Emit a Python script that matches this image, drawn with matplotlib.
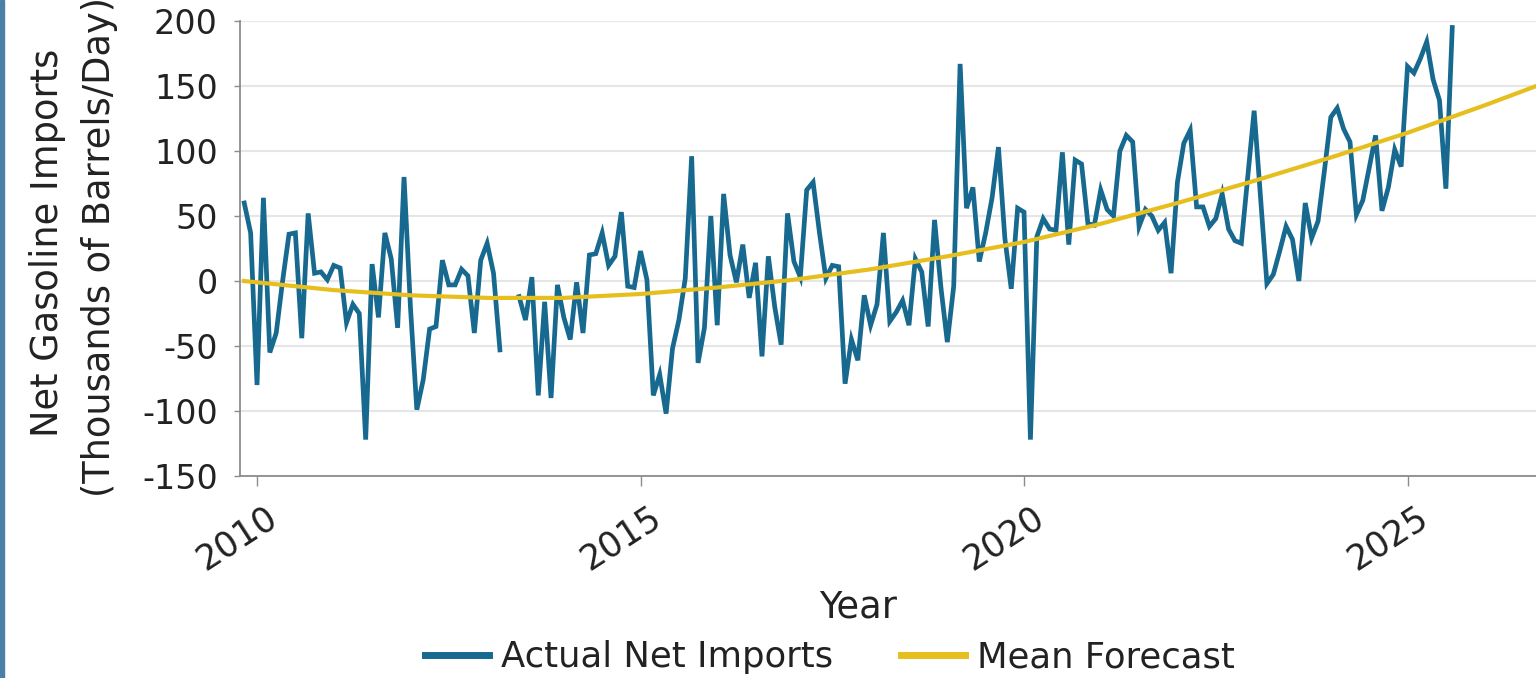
import numpy as np
import matplotlib.pyplot as plt
import matplotlib.transforms as mtransforms
from matplotlib.patches import Rectangle

plt.rcParams['font.family'] = ['DejaVu Sans']
plt.rcParams['axes.unicode_minus'] = False

# monthly net gasoline imports starting Nov 2009 (nan = missing months)
start_year = 2009
start_month = 11
net_imports = [
    60, 37, -80, 64, -55, -40, 0, 36, 37, -44, 52, 6, 7, 1, 12, 10,
    -32, -18, -25, -122, 13, -28, 37, 17, -36, 80, -20, -99, -76, -37,
    -35, 16, -3, -3, 9, 4, -40, 16, 29, 6, -53, np.nan, np.nan, -12,
    -30, 3, -88, -16, -90, -3, -28, -45, -1, -40, 20, 21, 37, 12, 19,
    53, -4, -5, 23, 1, -88, -72, -102, -52, -30, 2, 96, -63, -36, 50,
    -34, 67, 20, -1, 28, -13, 14, -58, 19, -20, -49, 52, 15, 3, 70,
    76, 37, 2, 12, 11, -79, -45, -61, -11, -34, -18, 37, -31, -24,
    -15, -34, 17, 7, -35, 47, -5, -47, -4, 167, 56, 72, 15, 37, 64,
    103, 33, -6, 56, 53, -122, 34, 48, 40, 39, 99, 28, 93, 90, 44, 43,
    70, 55, 50, 100, 112, 107, 42, 55, 50, 39, 45, 6, 76, 106, 116,
    57, 57, 42, 48, 67, 40, 31, 29, 80, 131, 64, -2, 5, 23, 42, 32, 0,
    60, 33, 46, 85, 126, 133, 117, 107, 51, 62, 87, 112, 54, 72, 101,
    88, 165, 160, 171, 184, 155, 139, 71, 195,
]

forecast_years = [2009.83, 2011, 2012, 2013, 2014, 2015, 2016, 2017, 2018,
                  2019, 2020, 2021, 2022, 2023, 2024, 2025, 2026, 2026.68]
forecast_values = [0, -7, -11, -13, -13, -10, -5, 1, 9, 19, 30, 44, 60, 77,
                   95, 114, 135, 150]

x_ticks = [2010, 2015, 2020, 2025]
y_ticks = [-150, -100, -50, 0, 50, 100, 150, 200]

blue = '#17698f'
yellow = '#e6bf1f'
text_color = '#222222'

months = np.arange(len(net_imports))
years = start_year + (start_month - 1 + months) / 12

fig = plt.figure(figsize=(15.36, 6.78), dpi=100)
ax = fig.add_axes([240 / 1536, 1 - 476 / 678, 1296 / 1536, 455 / 678])

ax.plot(years, net_imports, color=blue, lw=3.4, label='Actual Net Imports',
        solid_joinstyle='miter', zorder=3)
ax.plot(forecast_years, forecast_values, color=yellow, lw=3.0,
        label='Mean Forecast', zorder=4)

ax.set_xlim(2009.778, 2026.675)
ax.set_ylim(-150, 200)
ax.set_yticks(y_ticks)
ax.set_xticks(x_ticks)
ax.grid(axis='y', color='#e6e6e6', lw=1.5, zorder=0)
ax.set_axisbelow(True)

for side in ['top', 'right']:
    ax.spines[side].set_visible(False)
for side in ['left', 'bottom']:
    ax.spines[side].set_color('#8c8c8c')
    ax.spines[side].set_linewidth(1.3)

ax.tick_params(axis='y', length=4, width=1, color='#8c8c8c', pad=12,
               labelsize=24, labelcolor=text_color)
ax.tick_params(axis='x', length=7, width=1, color='#8c8c8c', pad=10,
               labelsize=25, labelcolor=text_color)

shift = mtransforms.ScaledTranslation(-20 / 100, 0, fig.dpi_scale_trans)
for lbl in ax.get_xticklabels():
    lbl.set_rotation(33)
    lbl.set_ha('center')
    lbl.set_transform(lbl.get_transform() + shift)

fig.text(48 / 1536, 1 - 243 / 678, 'Net Gasoline Imports', rotation=90,
         ha='center', va='center', fontsize=26.5, color=text_color)
fig.text(100 / 1536, 1 - 247 / 678, '(Thousands of Barrels/Day)', rotation=90,
         ha='center', va='center', fontsize=26.5, color=text_color)
fig.text(858 / 1536, 1 - 607 / 678, 'Year', ha='center', va='center',
         fontsize=26.5, color=text_color)

leg = fig.legend(loc='center', bbox_to_anchor=(830 / 1536, 1 - 657 / 678),
                 ncol=2, frameon=False, fontsize=25.5, handlelength=1.8,
                 handletextpad=0.35, columnspacing=1.9)
for line in leg.get_lines():
    line.set_linewidth(5)
for t in leg.get_texts():
    t.set_color(text_color)

# thin frame edge on the left
fig.patches.append(Rectangle((0, 0), 4 / 1536, 1, transform=fig.transFigure,
                             color='#4a7fa8', zorder=0))

fig.savefig('out.png', dpi=100)
